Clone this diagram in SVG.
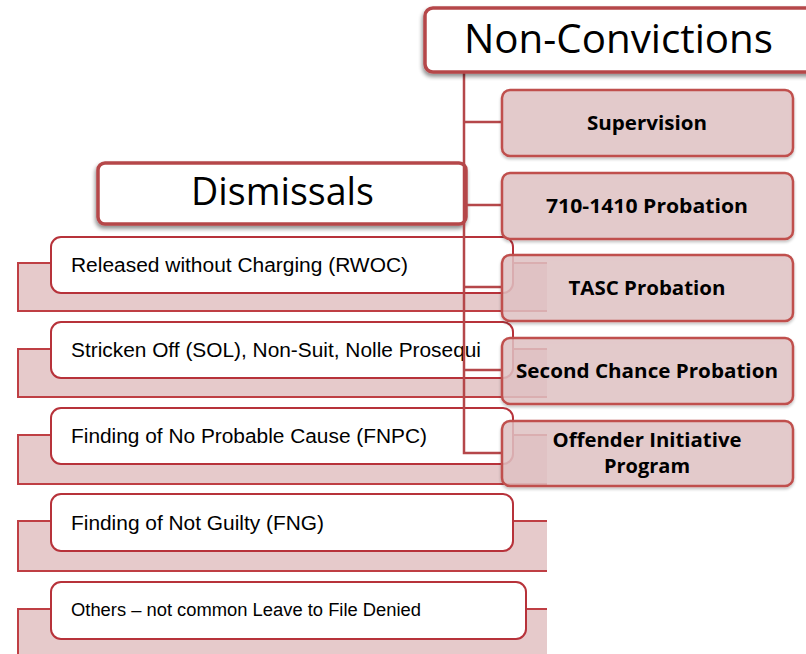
<svg xmlns="http://www.w3.org/2000/svg" width="806" height="654" viewBox="0 0 806 654">
<defs>
<filter id="sh" x="-10%" y="-20%" width="130%" height="160%">
<feGaussianBlur in="SourceAlpha" stdDeviation="2"/>
<feOffset dx="-1" dy="3" result="b"/>
<feComponentTransfer><feFuncA type="linear" slope="0.45"/></feComponentTransfer>
<feMerge><feMergeNode/><feMergeNode in="SourceGraphic"/></feMerge>
</filter>
<filter id="sh2" x="-5%" y="-10%" width="110%" height="130%">
<feGaussianBlur in="SourceAlpha" stdDeviation="1.5"/>
<feOffset dx="0" dy="2" result="b"/>
<feComponentTransfer><feFuncA type="linear" slope="0.25"/></feComponentTransfer>
<feMerge><feMergeNode/><feMergeNode in="SourceGraphic"/></feMerge>
</filter>
</defs>
<style>
.pink{fill:#e6cacb;stroke:#bf3f44;stroke-width:2}
.wbox{fill:#ffffff;stroke:#b7323a;stroke-width:2}
.title{fill:#ffffff;stroke:#b5474a;stroke-width:3.5}
.rbox{fill:#e3c5c6;fill-opacity:0.82;stroke:#c0504d;stroke-width:2.5}
.conn{fill:none;stroke:#b5474a;stroke-width:2.5}
.lt{font-family:"Liberation Sans",Arial,sans-serif;font-size:20px;fill:#000}
.rt{font-family:"Open Sans","DejaVu Sans",sans-serif;font-weight:bold;font-size:20px;fill:#000;text-anchor:middle}
.tt{font-family:"Open Sans","DejaVu Sans",sans-serif;font-size:41px;fill:#000}
</style>
<rect width="806" height="654" fill="#ffffff"/>

<g id="dismissal-items">
<g id="rwoc">
<path class="pink" d="M547 263 H18 V311 H547"/>
<rect class="wbox" x="51" y="237" width="462" height="56" rx="10"/>
<text class="lt" x="71" y="272" textLength="337" lengthAdjust="spacingAndGlyphs">Released without Charging (RWOC)</text>
</g>
<g id="sol">
<path class="pink" d="M547 349 H18 V397 H547"/>
<rect class="wbox" x="51" y="322" width="462" height="56" rx="10"/>
<text class="lt" x="71" y="357" textLength="410" lengthAdjust="spacingAndGlyphs">Stricken Off (SOL), Non-Suit, Nolle Prosequi</text>
</g>
<g id="fnpc">
<path class="pink" d="M547 435 H18 V484 H547"/>
<rect class="wbox" x="51" y="408" width="462" height="56" rx="10"/>
<text class="lt" x="71" y="443" textLength="356" lengthAdjust="spacingAndGlyphs">Finding of No Probable Cause (FNPC)</text>
</g>
<g id="fng">
<path class="pink" d="M547 521 H18 V571 H547"/>
<rect class="wbox" x="51" y="494" width="462" height="57" rx="10"/>
<text class="lt" x="71" y="530" textLength="253" lengthAdjust="spacingAndGlyphs">Finding of Not Guilty (FNG)</text>
</g>
<g id="others">
<path class="pink" d="M547 609 H18 V660 H547"/>
<rect class="wbox" x="51" y="582" width="475" height="57" rx="10"/>
<text class="lt" x="71" y="616" style="font-size:18px" textLength="350" lengthAdjust="spacingAndGlyphs">Others – not common Leave to File Denied</text>
</g>
</g>

<g id="dismissals">
<rect class="title" x="98" y="163" width="368" height="61" rx="7" filter="url(#sh)"/>
<text class="tt" x="191" y="205" style="font-size:38px" textLength="183" lengthAdjust="spacingAndGlyphs">Dismissals</text>
</g>

<g id="connectors">
<path class="conn" d="M464 72 V453 H502"/>
<path class="conn" d="M464 122 H502"/>
<path class="conn" d="M464 205 H502"/>
<path class="conn" d="M464 287 H502"/>
<path class="conn" d="M464 370 H502"/>
</g>

<g id="supervision">
<rect class="rbox" x="502" y="90" width="291" height="66" rx="8" filter="url(#sh2)"/>
<text class="rt" x="647" y="130" textLength="120" lengthAdjust="spacingAndGlyphs">Supervision</text>
</g>
<g id="p7101410">
<rect class="rbox" x="502" y="173" width="291" height="66" rx="8" filter="url(#sh2)"/>
<text class="rt" x="647" y="213" textLength="202" lengthAdjust="spacingAndGlyphs">710-1410 Probation</text>
</g>
<g id="tasc">
<rect class="rbox" x="502" y="255" width="291" height="66" rx="8" filter="url(#sh2)"/>
<text class="rt" x="647" y="295" textLength="157" lengthAdjust="spacingAndGlyphs">TASC Probation</text>
</g>
<g id="second-chance">
<rect class="rbox" x="502" y="338" width="291" height="66" rx="8" filter="url(#sh2)"/>
<text class="rt" x="647" y="378" textLength="262" lengthAdjust="spacingAndGlyphs">Second Chance Probation</text>
</g>
<g id="offender">
<rect class="rbox" x="502" y="421" width="291" height="65" rx="8" filter="url(#sh2)"/>
<text class="rt" x="647" y="447" textLength="189" lengthAdjust="spacingAndGlyphs">Offender Initiative</text>
<text class="rt" x="647" y="473" textLength="86" lengthAdjust="spacingAndGlyphs">Program</text>
</g>

<g id="non-convictions">
<rect class="title" x="425" y="8" width="400" height="64" rx="8" filter="url(#sh)"/>
<text class="tt" x="464" y="53" textLength="309" lengthAdjust="spacingAndGlyphs">Non-Convictions</text>
</g>
</svg>
